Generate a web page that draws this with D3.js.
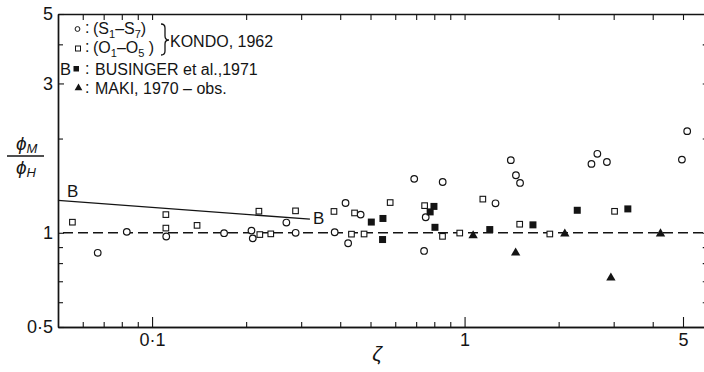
<!DOCTYPE html>
<html><head><meta charset="utf-8">
<script src="https://cdn.jsdelivr.net/npm/d3@7"></script>
<style>
body{margin:0;background:#fff}
svg{display:block}
text{font-family:"Liberation Sans",Arial,Helvetica,sans-serif;fill:#141414}
</style>
</head><body>
<svg id="chart" width="704" height="372"></svg>
<script>
// ---- data ----
// Kondo 1962, open circles (S1-S7)
const kondoSX = [0.067,0.083,0.111,0.170,0.208,0.210,0.269,0.288,0.384,0.416,0.424,0.465,0.690,0.751,0.742,0.851,1.256,1.406,1.460,1.505,2.547,2.66,2.854,4.96,5.157];
const kondoSY = [0.863,1.007,0.973,0.997,1.016,0.960,1.078,1.000,1.004,1.245,0.926,1.143,1.487,1.121,0.875,1.453,1.242,1.706,1.527,1.443,1.660,1.788,1.683,1.713,2.112];
// Kondo 1962, open squares (O1-O5)
const kondoOX = [0.0556,0.1107,0.1107,0.1393,0.2197,0.2212,0.2398,0.2878,0.382,0.4346,0.4446,0.4769,0.578,0.745,0.850,0.965,1.144,1.501,1.874,3.02];
const kondoOY = [1.081,1.143,1.035,1.056,1.172,0.987,0.992,1.175,1.170,0.990,1.157,0.991,1.249,1.221,0.974,0.998,1.281,1.065,0.991,1.171];
// Businger et al. 1971, filled squares
const busingerX = [0.503,0.548,0.5465,0.776,0.798,0.804,1.204,1.655,2.294,3.33];
const busingerY = [1.082,1.111,0.9515,1.166,1.214,1.041,1.024,1.060,1.180,1.192];
// Maki 1970 obs., filled triangles
const makiX = [1.065,1.457,2.093,2.939,4.236];
const makiY = [0.979,0.863,0.992,0.718,0.993];
// Businger curve "B"
const bLineX = [0.05,0.32];
const bLineY = [1.27,1.105];
// reference line phi_M/phi_H = 1
const refLineY = 1;

const xDomain = [0.05, 6];
const yDomain = [0.5, 5];
const xTickValues = [0.1, 1, 5];
const xTickLabels = ["0·1", "1", "5"];
const xMinorTicks = [0.06,0.07,0.08,0.09,0.2,0.3,0.4,0.5,0.6,0.7,0.8,0.9,2,3,4,6];
const yTickValues = [0.5, 1, 3, 5];
const yTickLabels = ["0·5", "1", "3", "5"];
const yMinorTicks = [0.6,0.7,0.8,0.9,2,4];

// ---- layout ----
const svg = d3.select("#chart");
const plotL = 58, plotT = 14, plotB = 327;
const plotR = plotL + 312.5 * Math.log10(xDomain[1] / xDomain[0]);
const x = d3.scaleLog().domain(xDomain).range([plotL, plotR]);
const y = d3.scaleLog().domain(yDomain).range([plotB, plotT]);
const ink = "#141414";

function styleAxis(g){
  g.selectAll("path.domain").attr("stroke", ink).attr("stroke-width", 1.4);
  g.selectAll(".tick line").attr("stroke", ink).attr("stroke-width", 1.1);
  g.selectAll("text").attr("font-size", 18).attr("fill", ink)
    .style("font-family", '"Liberation Sans", Arial, sans-serif');
}

// bottom axis
const fmtX = d => xTickLabels[xTickValues.indexOf(d)];
svg.append("g").attr("transform", `translate(0,${plotB})`)
  .call(d3.axisBottom(x).tickValues(xTickValues).tickFormat(fmtX).tickSize(-10).tickSizeOuter(0).tickPadding(6))
  .call(styleAxis);
svg.append("g").attr("transform", `translate(0,${plotB})`)
  .call(d3.axisBottom(x).tickValues(xMinorTicks).tickFormat("").tickSize(-5).tickSizeOuter(0))
  .call(styleAxis);
// top axis
svg.append("g").attr("transform", `translate(0,${plotT})`)
  .call(d3.axisTop(x).tickValues(xTickValues.concat(xMinorTicks)).tickFormat("").tickSize(-6).tickSizeOuter(0))
  .call(styleAxis);
// left axis
const fmtY = d => yTickLabels[yTickValues.indexOf(d)];
svg.append("g").attr("transform", `translate(${plotL},0)`)
  .call(d3.axisLeft(y).tickValues(yTickValues).tickFormat(fmtY).tickSize(-6).tickSizeOuter(0).tickPadding(5))
  .call(styleAxis);
svg.append("g").attr("transform", `translate(${plotL},0)`)
  .call(d3.axisLeft(y).tickValues(yMinorTicks).tickFormat("").tickSize(-5).tickSizeOuter(0))
  .call(styleAxis);
// right axis
svg.append("g").attr("transform", `translate(${plotR},0)`)
  .call(d3.axisRight(y).tickValues(yTickValues.concat(yMinorTicks)).tickFormat("").tickSize(-5).tickSizeOuter(0))
  .call(styleAxis);

// reference dashed line
svg.append("line")
  .attr("x1", x(xDomain[0]) + 5).attr("x2", x(xDomain[1]))
  .attr("y1", y(refLineY)).attr("y2", y(refLineY))
  .attr("stroke", ink).attr("stroke-width", 1.5).attr("stroke-dasharray", "10,5");

// Businger line B
const bData = bLineX.map((v, i) => [v, bLineY[i]]);
svg.append("path").datum(bData)
  .attr("d", d3.line().x(d => x(d[0])).y(d => y(d[1])))
  .attr("fill", "none").attr("stroke", ink).attr("stroke-width", 1.3);
svg.append("text").attr("x", x(bLineX[0]) + 9).attr("y", y(bLineY[0]) - 3)
  .attr("font-size", 17).text("B");
svg.append("text").attr("x", x(bLineX[1]) + 3).attr("y", y(bLineY[1]) + 5)
  .attr("font-size", 17).text("B");

// markers
const zip = (a, b) => a.map((v, i) => [v, b[i]]);
svg.append("g").selectAll("circle").data(zip(kondoSX, kondoSY)).join("circle")
  .attr("cx", d => x(d[0])).attr("cy", d => y(d[1])).attr("r", 3.3)
  .attr("fill", "#fff").attr("stroke", ink).attr("stroke-width", 1.2);
const sq = 5.6;
svg.append("g").selectAll("rect").data(zip(kondoOX, kondoOY)).join("rect")
  .attr("x", d => x(d[0]) - sq/2).attr("y", d => y(d[1]) - sq/2)
  .attr("width", sq).attr("height", sq)
  .attr("fill", "#fff").attr("stroke", ink).attr("stroke-width", 1.1);
const fs = 7;
svg.append("g").selectAll("rect").data(zip(busingerX, busingerY)).join("rect")
  .attr("x", d => x(d[0]) - fs/2).attr("y", d => y(d[1]) - fs/2)
  .attr("width", fs).attr("height", fs).attr("fill", ink);
const tri = d3.symbol().type(d3.symbolTriangle).size(38);
svg.append("g").selectAll("path").data(zip(makiX, makiY)).join("path")
  .attr("transform", d => `translate(${x(d[0])},${y(d[1])})`)
  .attr("d", tri).attr("fill", ink);

// legend
const lg = svg.append("g").attr("font-size", 16);
lg.append("circle").attr("cx", 77.5).attr("cy", 29).attr("r", 2.4)
  .attr("fill", "#fff").attr("stroke", ink).attr("stroke-width", 1);
lg.append("rect").attr("x", 75.5).attr("y", 46).attr("width", 5).attr("height", 5)
  .attr("fill", "#fff").attr("stroke", ink).attr("stroke-width", 1);
lg.append("text").attr("x", 60).attr("y", 75).attr("font-size", 16.5).text("B");
lg.append("rect").attr("x", 73.5).attr("y", 66).attr("width", 5.5).attr("height", 5.5).attr("fill", ink);
lg.append("path").attr("transform", "translate(78.5,88)")
  .attr("d", d3.symbol().type(d3.symbolTriangle).size(26)).attr("fill", ink);
[34, 53, 75, 94].forEach(b => lg.append("text").attr("x", 85).attr("y", b - 1).text(":"));

function subText(xp, yp, parts){
  const t = lg.append("text").attr("x", xp).attr("y", yp);
  parts.forEach(p => {
    const s = t.append("tspan").text(p[0]);
    if (p[1]) s.attr("font-size", 11).attr("dy", 4);
    else if (p[2]) s.attr("dy", -4);
  });
  return t;
}
subText(93, 34, [["(S"], ["1", true], ["–S", false, true], ["7", true], [")", false, true]]);
subText(93, 53, [["(O"], ["1", true], ["–O", false, true], ["5", true], [" )", false, true]]);
lg.append("path")
  .attr("d", "M161,24 Q165,24 165,28 L165,36 Q165,40 169,40 Q165,40 165,44 L165,51 Q165,55 161,55")
  .attr("fill", "none").attr("stroke", ink).attr("stroke-width", 1.3);
lg.append("text").attr("x", 170).attr("y", 47).text("KONDO, 1962");
lg.append("text").attr("x", 95).attr("y", 75).text("BUSINGER et al.,1971");
lg.append("text").attr("x", 95).attr("y", 94).text("MAKI, 1970 – obs.");

// y-axis label  phi_M / phi_H
const yl = svg.append("g").attr("font-size", 19);
const num = yl.append("text").attr("x", 16).attr("y", 150).attr("font-style", "italic");
num.append("tspan").text("ϕ");
num.append("tspan").attr("font-size", 13).attr("dy", 3).text("M");
yl.append("line").attr("x1", 7).attr("x2", 44).attr("y1", 156).attr("y2", 156)
  .attr("stroke", ink).attr("stroke-width", 1.3);
const den = yl.append("text").attr("x", 16).attr("y", 174).attr("font-style", "italic");
den.append("tspan").text("ϕ");
den.append("tspan").attr("font-size", 13).attr("dy", 3).text("H");

// x-axis label zeta
svg.append("text").attr("x", 377).attr("y", 361).attr("text-anchor", "middle")
  .attr("font-size", 21).attr("font-style", "italic").text("ζ");
</script>
</body></html>
